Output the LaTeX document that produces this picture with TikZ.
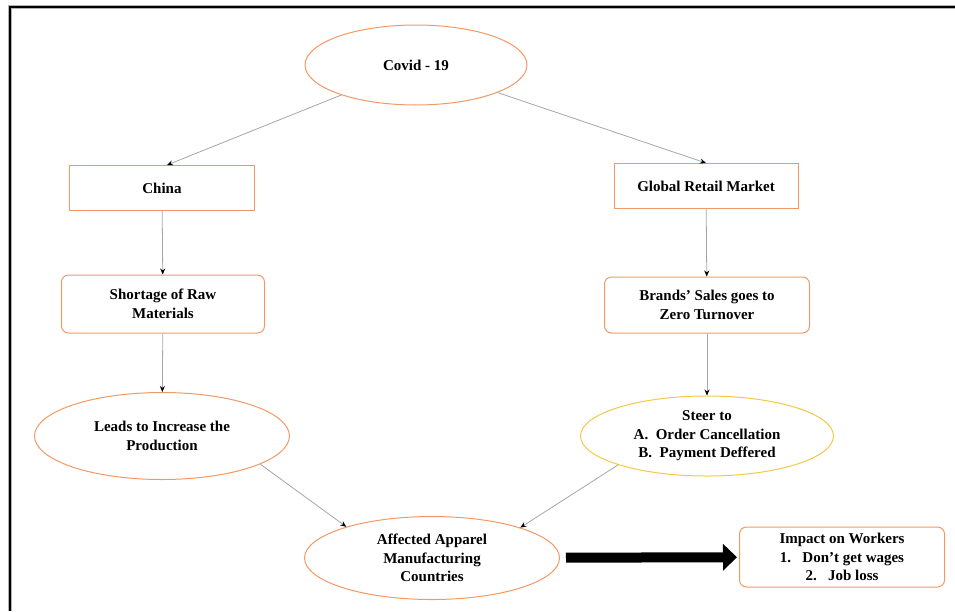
\documentclass[tikz,border=0pt]{standalone}
\usepackage{fontspec}
\setmainfont{Liberation Serif}
\usetikzlibrary{shapes.geometric,arrows.meta}
\definecolor{peach}{RGB}{242,152,100}
\definecolor{amber}{RGB}{242,200,70}
\begin{document}
\begin{tikzpicture}[x=1pt, y=-1pt, thick,
  font=\bfseries\fontsize{15}{18.5}\selectfont,
  oval/.style = {draw=peach, ellipse, align=center, line width=1pt, inner sep=0pt},
  box/.style = {draw=peach, rectangle, align=center, line width=1pt},
  rbox/.style = {box, rounded corners=7pt},
  link/.style = {draw=gray!70, line width=0.8pt, -{Stealth[black, length=6pt, width=5pt]}}]
		\useasboundingbox (0,0) rectangle (955,611);
		\draw[gray!60, line width=3.5pt] (955,7) -- (10,7) -- (10,611);
		\draw[black, line width=1.8pt] (955,7) -- (10,7) -- (10,611);
		\node[oval, minimum width=222pt, minimum height=80pt] (covid) at (416,65) {Covid - 19};
		\node[box, minimum width=185pt, minimum height=45pt] (china) at (162,188) {China};
		\node[box, minimum width=184pt, minimum height=45pt] (retail) at (706,186) {Global Retail Market};
		\node[rbox, minimum width=203pt, minimum height=58pt] (raw) at (163,304) {Shortage of Raw\\Materials};
		\node[rbox, minimum width=205pt, minimum height=56pt] (sales) at (707,305) {Brands' Sales goes to\\Zero Turnover};
		\node[oval, minimum width=255pt, minimum height=87pt] (prod) at (162,436) {Leads to Increase the\\Production};
		\node[oval, draw=amber, minimum width=253pt, minimum height=80pt] (steer) at (707,436) {Steer to\\A.\ \ Order Cancellation\\B.\ \ Payment Deffered};
		\node[oval, minimum width=255pt, minimum height=83pt] (aff) at (432,558) {Affected Apparel\\Manufacturing\\Countries};
		\node[rbox, minimum width=205pt, minimum height=60pt] (work) at (842,557) {Impact on Workers\\1.\ \ \ Don't get wages\\2.\ \ \ Job loss};
		\draw[link] (covid) -- ([xshift=5pt]china.north);
		\draw[link] (covid) -- (retail.north);
		\draw[link] (china) -- (raw);
		\draw[link] (retail) -- (sales);
		\draw[link] (raw) -- (prod);
		\draw[link] (sales) -- (steer);
		\draw[link] (prod.-16) -- (aff.160);
		\draw[link] (steer.-162) -- (aff.19);
		\draw[line width=10pt, -{Triangle[length=14pt, width=26pt]}, shorten <=6pt, shorten >=2pt] (aff) -- (work);
	\end{tikzpicture}
\end{document}
